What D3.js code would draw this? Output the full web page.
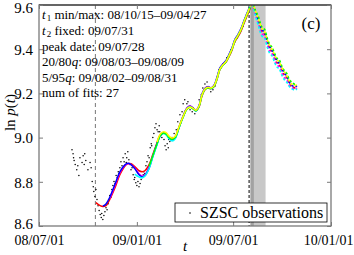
<!DOCTYPE html>
<html>
<head>
<meta charset="utf-8">
<script src="https://cdn.jsdelivr.net/npm/d3@7"></script>
<style>
  body { margin: 0; background: #fff; }
  svg { display: block; }
  svg text { font-family: "Liberation Serif", "Times New Roman", "DejaVu Serif", serif; }
</style>
</head>
<body>
<div id="chart"></div>
<script>
// days counted from 2008-07-01
const baseDate = "2008-07-01";
const xTickDates = ["2008-07-01", "2009-01-01", "2009-07-01", "2010-01-01"];
const yTicks = [8.6, 8.8, 9.0, 9.2, 9.4, 9.6];

const t1Date = "2008-10-15";
const t2Date = "2009-07-31";
const q2080 = ["2009-08-03", "2009-08-09"];
const q0595 = ["2009-08-02", "2009-08-31"];

const obsDays = [62, 64, 65, 66, 68, 71, 73, 75, 77, 81, 83, 85, 86, 88, 92, 96, 98, 100, 102, 103,
  105, 107, 109, 111, 113, 115, 117, 118, 120, 122, 124, 126, 128, 130, 132, 133, 135, 137, 139, 141,
  143, 145, 147, 149, 150, 152, 154, 156, 158, 160, 162, 164, 165, 167, 169, 171, 173, 175, 177, 179,
  180, 182, 184, 186, 188, 190, 192, 194, 196, 197, 199, 201, 203, 205, 207, 209, 211, 212, 214, 216,
  218, 220, 222, 224, 226, 227, 229, 231, 233, 235, 237, 239, 241, 243, 244, 246, 250, 254, 258, 261,
  265, 269, 271, 274, 278, 280, 284, 288, 290, 293, 297, 301, 305, 308, 312, 316, 320, 323, 327, 331,
  335, 338, 342, 346, 350, 353, 357, 361, 365, 368, 372, 376, 380, 384, 387, 391, 395];
const obsValues = [8.945, 8.927, 8.909, 8.896, 8.878, 8.855, 8.873, 8.828, 8.909, 8.887, 8.918, 8.878, 8.927, 8.896, 8.855, 8.887, 8.864, 8.801, 8.778, 8.756,
  8.733, 8.765, 8.720, 8.692, 8.670, 8.652, 8.638, 8.656, 8.629, 8.647, 8.665, 8.683, 8.674, 8.701, 8.720, 8.738, 8.729, 8.765, 8.783, 8.801,
  8.792, 8.828, 8.819, 8.846, 8.837, 8.864, 8.891, 8.873, 8.909, 8.891, 8.927, 8.887, 8.909, 8.936, 8.900, 8.878, 8.855, 8.864, 8.832, 8.810,
  8.819, 8.796, 8.783, 8.801, 8.778, 8.792, 8.810, 8.819, 8.832, 8.846, 8.837, 8.873, 8.891, 8.918, 8.909, 8.954, 8.972, 8.963, 9.000, 9.018,
  9.045, 9.063, 9.036, 9.027, 9.054, 9.027, 9.009, 9.000, 9.018, 8.991, 8.963, 8.945, 8.972, 8.954, 8.991, 8.982, 9.000, 9.018, 9.036, 9.072,
  9.103, 9.117, 9.153, 9.171, 9.153, 9.162, 9.126, 9.117, 9.135, 9.108, 9.126, 9.171, 9.194, 9.225, 9.243, 9.252, 9.225, 9.207, 9.216, 9.234,
  9.270, 9.307, 9.316, 9.334, 9.343, 9.361, 9.374, 9.397, 9.415, 9.433, 9.451, 9.469, 9.487, 9.505, 9.532, 9.559, 9.586];

const fitDays = [107, 115, 120, 126, 133, 143, 152, 162, 167, 173, 180, 188, 194, 199, 207, 214, 222, 227, 233, 239,
  244, 250, 256, 263, 271, 278, 284, 290, 295, 301, 306, 312, 318, 323, 329, 335, 340, 346, 352, 357,
  363, 368, 374, 380, 385, 391, 397, 400,
  406, 412, 419, 424, 429, 434, 438, 443, 447, 452, 457, 462, 466, 471, 476, 481, 485];

const _ = null;
const fitRed = [8.706, 8.692, 8.688, 8.692, 8.720, 8.774, 8.832, 8.873, 8.882, 8.882, 8.869, 8.850, 8.846, 8.850, 8.878, 8.923, 8.977, 9.009, 9.022, 9.018,
  9.004, 8.995, 9.004, 9.045, 9.094, 9.130, 9.139, 9.130, 9.121, 9.139, 9.185, 9.216, 9.225, 9.221, 9.230, 9.266, 9.307, 9.329, 9.343, 9.365,
  9.397, 9.433, 9.456, 9.483, 9.514, 9.550, 9.586, 9.620,
  9.57, 9.53, 9.48, 9.47, 9.43, 9.40, 9.39, 9.36, 9.34, 9.33, 9.30, 9.28, 9.27, 9.24, 9.23, 9.225, 9.23];
const fitMagenta = [_, _, _, _, 8.725, 8.785, 8.840, 8.876, 8.883, 8.878, 8.862, 8.836, 8.826, 8.832, 8.866, 8.918, 8.974, 9.007, 9.022, 9.018,
  9.002, 8.990, 9.000, 9.046, 9.098, 9.134, 9.144, 9.134, 9.124, 9.146, 9.194, 9.223, 9.231, 9.225, 9.236, 9.274, 9.313, 9.333, 9.349, 9.373,
  9.405, 9.440, 9.464, 9.492, 9.524, 9.560, 9.596, 9.624,
  9.565, 9.52, 9.47, 9.46, 9.42, 9.39, 9.38, 9.35, 9.33, 9.32, 9.29, 9.27, 9.26, 9.235, 9.225, 9.22, 9.225];
const fitBlue = [_, _, 8.690, 8.700, 8.730, 8.790, 8.845, 8.878, 8.884, 8.878, 8.860, 8.832, 8.822, 8.828, 8.862, 8.915, 8.972, 9.005, 9.020, 9.016,
  9.000, 8.988, 8.998, 9.045, 9.097, 9.133, 9.142, 9.133, 9.122, 9.145, 9.193, 9.222, 9.230, 9.224, 9.236, 9.275, 9.314, 9.333, 9.350, 9.375,
  9.408, 9.442, 9.466, 9.494, 9.526, 9.562, 9.598, 9.625,
  9.575, 9.535, 9.49, 9.475, 9.44, 9.41, 9.395, 9.37, 9.35, 9.335, 9.31, 9.29, 9.275, 9.25, 9.235, 9.23, 9.235];
const fitCyan = [_, _, _, _, _, _, _, _, _, _, 8.835, 8.822, 8.818, 8.826, 8.860, 8.912, 8.968, 9.003, 9.018, 9.012,
  8.996, 8.985, 8.995, 9.042, 9.094, 9.130, 9.140, 9.130, 9.120, 9.142, 9.190, 9.219, 9.227, 9.221, 9.232, 9.270, 9.310, 9.330, 9.346, 9.370,
  9.402, 9.438, 9.462, 9.490, 9.522, 9.558, 9.594, 9.622,
  9.56, 9.51, 9.46, 9.45, 9.41, 9.38, 9.37, 9.34, 9.32, 9.31, 9.28, 9.26, 9.25, 9.23, 9.22, 9.215, 9.22];
const fitGreen = [_, _, _, _, _, _, _, _, _, _, _, _, _, _, 8.870, 8.918, 8.972, 9.006, 9.020, 9.016,
  9.002, 8.992, 9.000, 9.044, 9.094, 9.128, 9.137, 9.130, 9.122, 9.142, 9.188, 9.218, 9.226, 9.222, 9.232, 9.268, 9.308, 9.328, 9.344, 9.368,
  9.400, 9.436, 9.460, 9.488, 9.520, 9.556, 9.592, 9.620,
  9.58, 9.55, 9.50, 9.49, 9.45, 9.42, 9.41, 9.38, 9.36, 9.35, 9.32, 9.30, 9.29, 9.26, 9.25, 9.24, 9.24];
const fitYellow = [_, _, _, _, _, _, _, _, _, _, _, _, _, _, _, _, 8.980, 9.012, 9.026, 9.022,
  9.008, 8.998, 9.006, 9.048, 9.096, 9.130, 9.139, 9.132, 9.124, 9.144, 9.190, 9.220, 9.228, 9.224, 9.234, 9.270, 9.310, 9.330, 9.346, 9.370,
  9.402, 9.438, 9.462, 9.490, 9.522, 9.558, 9.594, 9.622,
  9.58, 9.54, 9.495, 9.48, 9.445, 9.415, 9.40, 9.375, 9.355, 9.34, 9.315, 9.295, 9.28, 9.255, 9.24, 9.235, 9.24];

const fits = [
  { color: "#ff0000", values: fitRed },
  { color: "#ff00ff", values: fitMagenta },
  { color: "#0000ff", values: fitBlue },
  { color: "#00ffff", values: fitCyan },
  { color: "#00ff00", values: fitGreen },
  { color: "#ffff00", values: fitYellow }
];

const W = 354, H = 255;
const m = { left: 39, right: 331, top: 5, bottom: 226 };
const parse = d3.utcParse("%Y-%m-%d");
const base = parse(baseDate);
const dayToDate = d => d3.utcDay.offset(base, d);

const x = d3.scaleUtc()
  .domain([parse(xTickDates[0]), parse(xTickDates[xTickDates.length - 1])])
  .range([m.left, m.right]);
const y = d3.scaleLinear().domain([8.6, 9.6]).range([m.bottom, m.top]);

const svg = d3.select("#chart").append("svg").attr("width", W).attr("height", H);

svg.append("clipPath").attr("id", "plot")
  .append("rect").attr("x", m.left).attr("y", m.top)
  .attr("width", m.right - m.left).attr("height", m.bottom - m.top);
svg.append("clipPath").attr("id", "before")
  .append("rect").attr("x", m.left).attr("y", m.top)
  .attr("width", x(parse(t2Date)) - m.left).attr("height", m.bottom - m.top);
svg.append("clipPath").attr("id", "after")
  .append("rect").attr("x", x(parse(t2Date))).attr("y", m.top)
  .attr("width", m.right - x(parse(t2Date))).attr("height", m.bottom - m.top);

// quantile bands
svg.append("rect")
  .attr("x", x(parse(q0595[0]))).attr("y", m.top)
  .attr("width", x(parse(q0595[1])) - x(parse(q0595[0])))
  .attr("height", m.bottom - m.top).attr("fill", "#c8c8c8");
svg.append("rect")
  .attr("x", x(parse(q2080[0]))).attr("y", m.top)
  .attr("width", x(parse(q2080[1])) - x(parse(q2080[0])))
  .attr("height", m.bottom - m.top).attr("fill", "#a2a2a2");

// t1 and t2 markers
svg.append("line")
  .attr("x1", x(parse(t1Date))).attr("x2", x(parse(t1Date)))
  .attr("y1", m.top).attr("y2", m.bottom)
  .attr("stroke", "#555").attr("stroke-width", 0.8).attr("stroke-dasharray", "4,3");
svg.append("line")
  .attr("x1", x(parse(t2Date))).attr("x2", x(parse(t2Date)))
  .attr("y1", m.top).attr("y2", m.bottom)
  .attr("stroke", "#000").attr("stroke-width", 1).attr("stroke-dasharray", "3,2");

// observations
svg.append("g").attr("clip-path", "url(#plot)")
  .selectAll("circle").data(obsDays).join("circle")
  .attr("cx", (d) => x(dayToDate(d)))
  .attr("cy", (d, i) => y(obsValues[i]))
  .attr("r", 0.75).attr("fill", "#000");

// fits
const line = d3.line()
  .defined(d => d[1] != null)
  .x(d => x(dayToDate(d[0])))
  .y(d => y(d[1]))
  .curve(d3.curveCatmullRom);

const gFits = svg.append("g").attr("clip-path", "url(#plot)");
fits.forEach(f => {
  const pts = fitDays.map((d, i) => [d, f.values[i]]);
  gFits.append("g").attr("clip-path", "url(#before)")
    .append("path").attr("d", line(pts))
    .attr("fill", "none").attr("stroke", f.color).attr("stroke-width", 1.5);
  gFits.append("g").attr("clip-path", "url(#after)")
    .append("path").attr("d", line(pts))
    .attr("fill", "none").attr("stroke", f.color).attr("stroke-width", 1.6)
    .attr("stroke-dasharray", "2.5,2");
});

// frame and ticks
const frame = "#7a7a7a";
svg.append("rect")
  .attr("x", m.left).attr("y", m.top)
  .attr("width", m.right - m.left).attr("height", m.bottom - m.top)
  .attr("fill", "none").attr("stroke", frame).attr("stroke-width", 1.3);
svg.append("line").attr("x1", m.left).attr("x2", m.right)
  .attr("y1", m.top).attr("y2", m.top).attr("stroke", "#222").attr("stroke-width", 1.2);

const xTicks = xTickDates.map(parse);
const xAxis = d3.axisBottom(x).tickValues(xTicks).tickSize(-4).tickPadding(9)
  .tickFormat(d3.utcFormat("%y/%m/%d"));
const gx = svg.append("g").attr("transform", `translate(0,${m.bottom})`).call(xAxis);
const gxTop = svg.append("g").attr("transform", `translate(0,${m.top})`)
  .call(d3.axisTop(x).tickValues(xTicks).tickSize(-4).tickFormat(""));
const yAxis = d3.axisLeft(y).tickValues(yTicks).tickSize(-4).tickPadding(6)
  .tickFormat(d3.format(".1f"));
const gy = svg.append("g").attr("transform", `translate(${m.left},0)`).call(yAxis);
const gyR = svg.append("g").attr("transform", `translate(${m.right},0)`)
  .call(d3.axisRight(y).tickValues(yTicks).tickSize(-4).tickFormat(""));

[gx, gxTop, gy, gyR].forEach(g => {
  g.attr("font-family", null);
  g.select(".domain").remove();
  g.selectAll(".tick line").attr("stroke", frame).attr("stroke-width", 1);
  g.selectAll("text").attr("fill", "#000");
});
gx.selectAll("text").attr("font-size", 14);
// last date label sits at the right edge
gx.selectAll(".tick:last-of-type text").attr("text-anchor", "end").attr("x", 22);
gy.selectAll("text").attr("font-size", 15).attr("dy", "0.35em");
gy.selectAll(".tick:last-of-type text").attr("dy", "0.5em");
gy.selectAll(".tick:first-of-type text").attr("dy", "0.15em");

// annotation text
const ann = svg.append("g").attr("font-size", 13).attr("fill", "#000");
const rows = [
  [["t", "i"], ["1", "sub"], [" min/max: 08/10/15\u201309/04/27", ""]],
  [["t", "i"], ["2", "sub"], [" fixed: 09/07/31", ""]],
  [["peak date: 09/07/28", ""]],
  [["20/80", ""], ["q", "i"], [":  09/08/03\u201309/08/09", ""]],
  [["5/95", ""], ["q", "i"], [":  09/08/02\u201309/08/31", ""]],
  [["num of fits: 27", ""]]
];
const rowY = [19, 35, 51, 66, 82, 97];
rows.forEach((r, i) => {
  const t = ann.append("text").attr("x", 42).attr("y", rowY[i]);
  r.forEach(([s, k]) => {
    const ts = t.append("tspan").text(s);
    if (k === "i") ts.attr("font-style", "italic");
    if (k === "sub") ts.attr("font-size", 9).attr("dy", 2).attr("dx", 1);
    if (k === "" && r[0][1] === "i" && s.startsWith(" ")) ts.attr("dy", -2);
  });
});

svg.append("text").attr("x", 311).attr("y", 29).attr("text-anchor", "middle")
  .attr("font-size", 17).text("(c)");

// axis labels
const yl = svg.append("text")
  .attr("transform", `translate(15,${(m.top + m.bottom) / 2 - 3}) rotate(-90)`)
  .attr("text-anchor", "middle").attr("font-size", 15);
yl.append("tspan").text("ln ");
yl.append("tspan").attr("font-style", "italic").text("p");
yl.append("tspan").text("(");
yl.append("tspan").attr("font-style", "italic").text("t");
yl.append("tspan").text(")");

svg.append("text").attr("x", (m.left + m.right) / 2).attr("y", 251)
  .attr("text-anchor", "middle").attr("font-size", 15).attr("font-style", "italic").text("t");

// legend
const lg = svg.append("g");
lg.append("rect").attr("x", 175).attr("y", 203).attr("width", 152).attr("height", 19)
  .attr("fill", "#fff").attr("stroke", "#000").attr("stroke-width", 0.8);
lg.append("circle").attr("cx", 190).attr("cy", 213).attr("r", 0.8).attr("fill", "#000");
lg.append("text").attr("x", 200).attr("y", 218).attr("font-size", 16).text("SZSC observations");
</script>
</body>
</html>
